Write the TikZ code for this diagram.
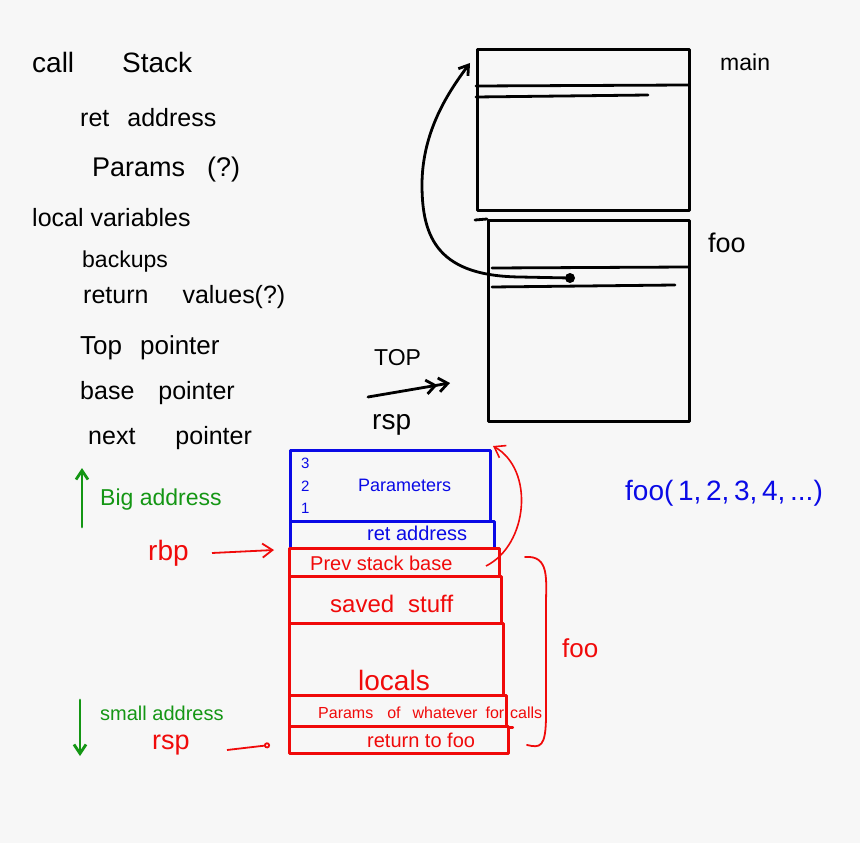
\documentclass[tikz,border=0pt]{standalone}
\usepackage{fontspec}
\setmainfont{Liberation Sans}
\usetikzlibrary{arrows.meta}
\definecolor{bg}{RGB}{247,247,247}
\definecolor{pblue}{RGB}{10,10,230}
\definecolor{pred}{RGB}{240,10,10}
\definecolor{pgreen}{RGB}{20,150,20}
\newcommand{\fs}[1]{\fontsize{#1}{#1}\selectfont}
\tikzset{
  pen/.style={line width=2.8pt, line cap=round, line join=round},
  txt/.style={inner sep=0pt, anchor=west},
  cell/.style={pen, rectangle, draw, inner sep=0pt, anchor=north west},
  barb/.style={-{Straight Barb[length=9pt,width=12pt]}},
}
\begin{document}
\begin{tikzpicture}[x=1pt,y=-1pt]
\fill[bg] (0,0) rectangle (860,843);
\useasboundingbox (0,0) rectangle (860,843);

% left list
\node[txt] (t1) at (32,62) {\fs{28}call\hspace{48pt}Stack};
\node[txt] (t2) at (80,118) {\fs{25}ret\hspace{18pt}address};
\node[txt] (t3) at (92,170) {\fs{27}Params\hspace{22pt}(?)};
\node[txt] (t4) at (32,218) {\fs{25}local variables};
\node[txt] (t5) at (82,262) {\fs{23}backups};
\node[txt] (t6) at (83,297) {\fs{25}return\hspace{34pt}values(?)};
\node[txt] (t7) at (80,348) {\fs{26}Top\hspace{18pt}pointer};
\node[txt] (t8) at (80,393) {\fs{25}base\hspace{24pt}pointer};
\node[txt] (t9) at (88,438) {\fs{25}next\hspace{40pt}pointer};

% black frames
\node[cell, minimum width=212pt, minimum height=161pt] (mainbox) at (476,48) {};
\node[cell, minimum width=201pt, minimum height=201pt] (foobox) at (487,219) {};
\draw[pen] (476,86) -- (688,85);
\draw[pen] (476,97) -- (648,95);
\draw[pen] (475,220) -- (foobox.north west);
\draw[pen] (492,268) -- (688,267);
\draw[pen] (492,287) -- (675,285);
\fill (570,278) circle (5pt) coordinate (dot);
\coordinate (mainin) at (470,63);
\draw[pen, barb] (dot) -- (520,277) .. controls (440,276) and (422,240) .. (422,185) .. controls (422,130) and (450,90) .. (mainin);
\node[txt] (lmain) at (720,62) {\fs{23}main};
\node[txt] (lfoo) at (708,243) {\fs{27}foo};

\node[txt] (ltop) at (374,358) {\fs{23}TOP};
\coordinate (topa) at (368,397);
\coordinate (topb) at (450,383);
\draw[pen, -{Straight Barb[length=9pt,width=14pt]Straight Barb[length=9pt,width=14pt]}] (topa) -- (topb);
\node[txt] (lrsp) at (372,425) {\fs{28}rsp};

% blue part
\begin{scope}[pblue]
\node[cell, minimum width=200pt, minimum height=71pt] (params) at (289,449) {};
\node[cell, minimum width=204pt, minimum height=27pt] (retaddr) at (289,520) {};
\node[txt] (n3) at (301,463) {\fs{15}3};
\node[txt] (n2) at (301,486) {\fs{15}2};
\node[txt] (n1) at (301,508) {\fs{15}1};
\node[txt] (lparams) at (358,485) {\fs{18}Parameters};
\node[txt] (lret) at (367,533) {\fs{20}ret address};
\node[txt] (call) at (625,493) {\fs{28}foo(\,1,\,2,\,3,\,4,\,...)};
\end{scope}

% red part
\begin{scope}[pred]
\node[cell, minimum width=210pt, minimum height=28pt] (prevbase) at (288,547) {};
\node[cell, minimum width=212pt, minimum height=47pt] (saved) at (288,575) {};
\node[cell, minimum width=214pt, minimum height=72pt] (locals) at (288,622) {};
\node[cell, minimum width=217pt, minimum height=31pt] (pcalls) at (288,694) {};
\node[cell, minimum width=219pt, minimum height=27pt] (retfoo) at (288,725) {};
\draw[pen] (pcalls.south east) -- ++(5,0);
\node[txt] (lprev) at (310,563) {\fs{20}Prev stack base};
\node[txt] (lsaved) at (330,604) {\fs{24}saved\hspace{14pt}stuff};
\node[txt] (llocals) at (358,680) {\fs{28}locals};
\node[txt] (lpcalls) at (318,713) {\fs{16}Params\hspace{14pt}of\hspace{12pt}whatever\hspace{8pt}for\hspace{6pt}calls};
\node[txt] (lretfoo) at (367,740) {\fs{20}return to foo};
\coordinate (prevend) at (486,566);
\coordinate (bluetop) at (493,446);
\draw[line width=1.6pt, -{Straight Barb[length=10pt,width=14pt]}] (prevend) .. controls (528,545) and (535,470) .. (bluetop);
\draw[line width=1.8pt, line cap=round] (525,557) .. controls (550,555) and (546,580) .. (546,605) -- (546,715) .. controls (546,748) and (540,748) .. (527,745);
\node[txt] (lfoo2) at (562,648) {\fs{26}foo};
\node[txt] (rbp) at (148,553) {\fs{28}rbp};
\coordinate (rbpa) at (212,553);
\draw[line width=1.8pt, -{Straight Barb[length=10pt,width=14pt]}] (rbpa) -- ([xshift=-14pt]prevbase.north west |- 0,550);
\node[txt] (rsp2) at (152,745) {\fs{27}rsp};
\coordinate (rspa) at (227,750);
\draw[line width=1.8pt, -{Circle[open,length=6pt]}] (rspa) -- ([xshift=-18pt]retfoo.west |- 0,745) ;
\end{scope}

% green part
\begin{scope}[pgreen]
\coordinate (gupa) at (82,527);
\coordinate (gupb) at (82,468);
\draw[pen, barb] (gupa) -- (gupb);
\node[txt] (big) at (100,500) {\fs{23}Big address};
\coordinate (gdna) at (80,700);
\coordinate (gdnb) at (80,756);
\draw[pen, barb] (gdna) -- (gdnb);
\node[txt] (small) at (100,713) {\fs{20}small address};
\end{scope}
\end{tikzpicture}
\end{document}
